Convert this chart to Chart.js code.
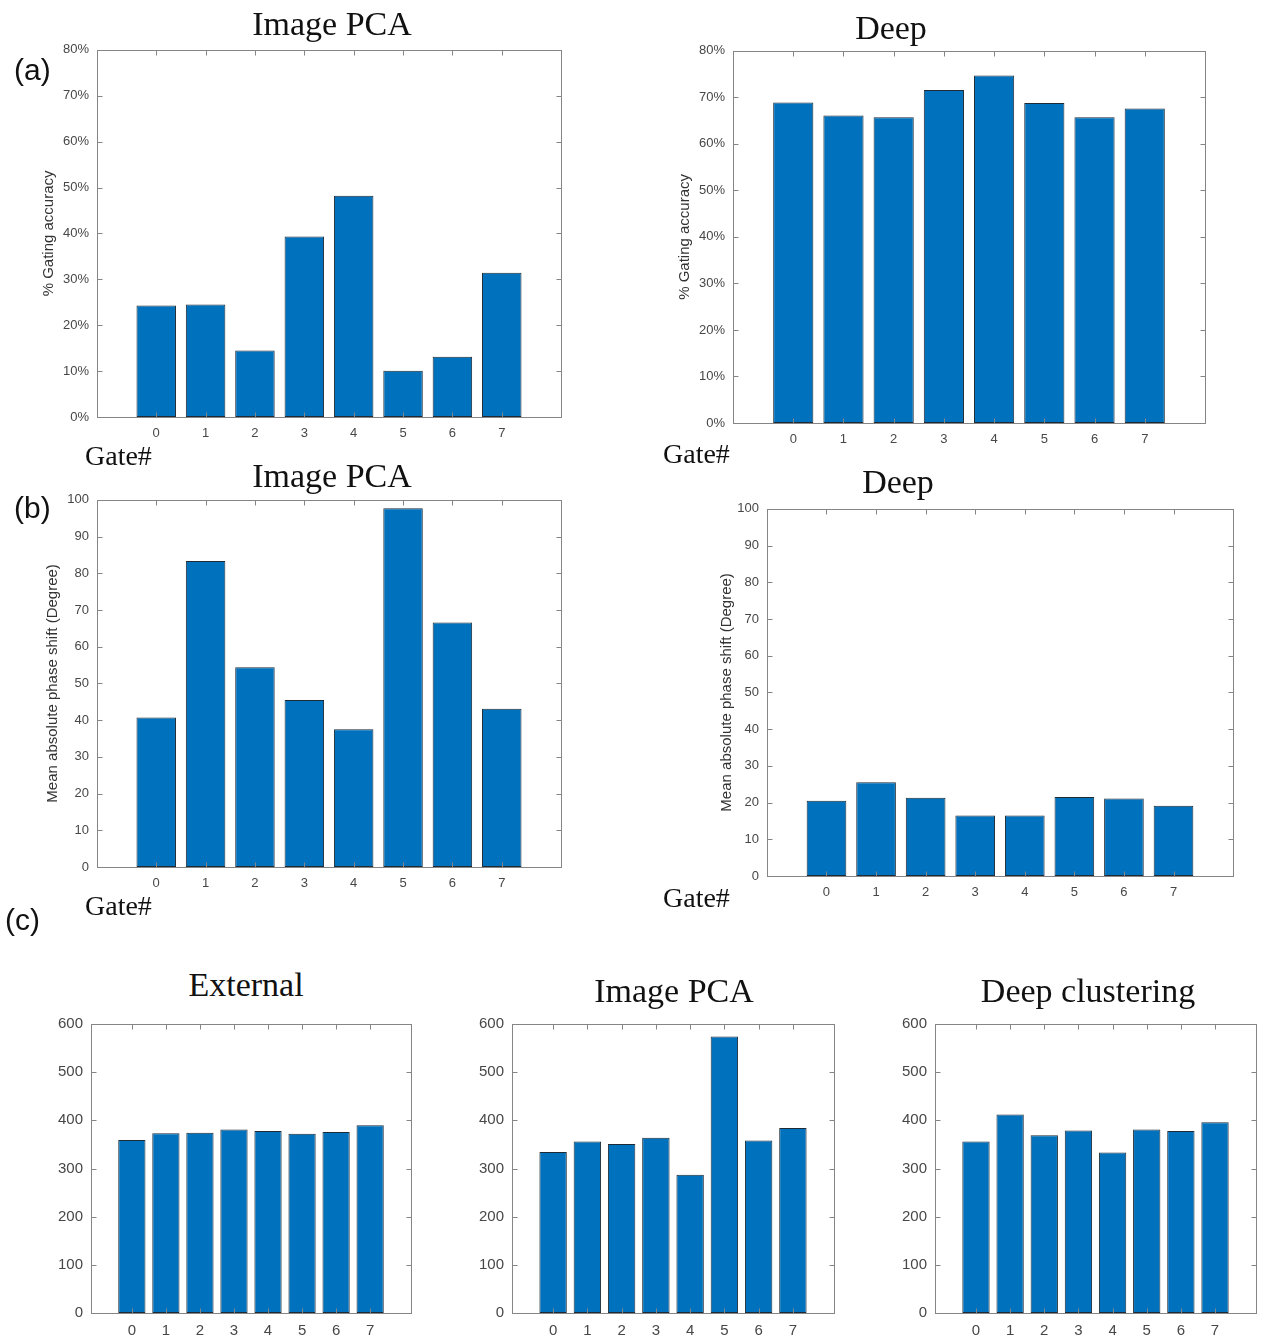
<!DOCTYPE html>
<html>
<head>
<meta charset="utf-8">
<script src="https://cdn.jsdelivr.net/npm/chart.js@4.4.1/dist/chart.umd.min.js"></script>
<style>
  html, body { margin: 0; padding: 0; background: #fff; overflow: hidden; }
  body { width: 1267px; height: 1341px; position: relative; }
  canvas { position: absolute; }
  .txt { position: absolute; white-space: nowrap; line-height: 1; color: #111; }
  .serif { font-family: "Liberation Serif", "Times New Roman", serif; }
  .sans { font-family: "Liberation Sans", Arial, sans-serif; }
</style>
</head>
<body>
<script>
// gate numbers on the x axis
const gates = [0, 1, 2, 3, 4, 5, 6, 7];

// (a) % gating accuracy
const accPca = [24.3, 24.5, 14.5, 39.3, 48.2, 10.1, 13.1, 31.4];
const accDeep = [68.9, 66.1, 65.7, 71.6, 74.7, 68.8, 65.7, 67.6];
const accTicks = [0, 10, 20, 30, 40, 50, 60, 70, 80];

// (b) mean absolute phase shift (degree)
const phasePca = [40.7, 83.3, 54.4, 45.5, 37.5, 97.7, 66.6, 43.1];
const phaseDeep = [20.5, 25.5, 21.3, 16.5, 16.5, 21.5, 21.1, 19.1];
const phaseTicks = [0, 10, 20, 30, 40, 50, 60, 70, 80, 90, 100];

// (c) counts per gate
const countExternal = [359, 373, 374, 381, 378, 372, 376, 390];
const countPca = [334, 356, 351, 364, 287, 574, 358, 384];
const countDeep = [356, 412, 369, 379, 333, 381, 378, 396];
const countTicks = [0, 100, 200, 300, 400, 500, 600];

const BAR = '#0072BD';
const AXIS = '#858585';
const LABEL = '#474747';

// MATLAB style box with inward ticks on all four sides
const boxTicks = {
  id: 'boxTicks',
  afterDatasetsDraw(chart) {
    const { ctx, chartArea: a, scales: { x, y } } = chart;
    ctx.save();
    ctx.strokeStyle = AXIS;
    ctx.lineWidth = 1;
    const L = 5;
    const line = (x1, y1, x2, y2) => { ctx.beginPath(); ctx.moveTo(x1, y1); ctx.lineTo(x2, y2); ctx.stroke(); };
    const left = Math.round(a.left) + 0.5, right = Math.round(a.right) + 0.5;
    const top = Math.round(a.top) + 0.5, bottom = Math.round(a.bottom) + 0.5;
    ctx.strokeRect(left, top, right - left, bottom - top);
    x.ticks.forEach(t => {
      const px = Math.round(x.getPixelForValue(t.value)) + 0.5;
      line(px, bottom, px, bottom - L);
      line(px, top, px, top + L);
    });
    y.ticks.forEach(t => {
      const py = Math.round(y.getPixelForValue(t.value)) + 0.5;
      line(left, py, left + L, py);
      line(right, py, right - L, py);
    });
    ctx.restore();
  }
};

function addText(text, x, baseline, size, cls, align) {
  const d = document.createElement('div');
  d.className = 'txt ' + cls;
  d.textContent = text;
  d.style.fontSize = size + 'px';
  const k = cls === 'serif' ? 0.8375 : 0.846;
  d.style.top = (baseline - k * size) + 'px';
  d.style.left = x + 'px';
  if (align === 'center') d.style.transform = 'translateX(-50%)';
  document.body.appendChild(d);
}

function barConfig(values, yTicks, opt) {
  const tickFont = { family: '"Liberation Sans", Arial, sans-serif', size: opt.font };
  return {
    type: 'bar',
    data: {
      datasets: [{
        data: gates.map((g, i) => ({ x: g, y: values[i] })),
        backgroundColor: BAR,
        borderColor: '#1e2a35',
        borderWidth: 1,
        borderSkipped: false,
        barPercentage: 0.8,
        categoryPercentage: 1.0
      }]
    },
    options: {
      responsive: false,
      devicePixelRatio: 1,
      animation: false,
      layout: { padding: { top: 0, right: 10, left: 0, bottom: 0 } },
      plugins: { legend: { display: false }, tooltip: { enabled: false } },
      scales: {
        x: {
          type: 'linear',
          offset: false,
          min: -1.2, max: 8.2,
          grid: { display: false, drawTicks: false },
          border: { display: false },
          afterBuildTicks: s => { s.ticks = gates.map(v => ({ value: v })); },
          afterFit: s => { s.height = opt.xh; },
          ticks: { autoSkip: false, maxRotation: 0, padding: opt.xpad, color: LABEL, font: tickFont,
                   callback: v => String(v) }
        },
        y: {
          min: yTicks[0], max: yTicks[yTicks.length - 1],
          grid: { display: false, drawTicks: false },
          border: { display: false },
          afterBuildTicks: s => { s.ticks = yTicks.map(v => ({ value: v })); },
          afterFit: s => { s.width = opt.yw; },
          ticks: { padding: 8, color: LABEL, font: tickFont,
                   callback: v => opt.pct ? v + '%' : String(v) },
          title: {
            display: !!opt.ytitle,
            text: opt.ytitle || '',
            color: '#333',
            font: { family: '"Liberation Sans", Arial, sans-serif', size: 15 },
            padding: { top: 1, bottom: 2 }
          }
        }
      }
    },
    plugins: [boxTicks]
  };
}

function makeBar(box, values, yTicks, opt) {
  const W = box.r - box.l + opt.yw + 10;
  const plotH = box.b - box.t;
  const c = document.createElement('canvas');
  document.body.appendChild(c);
  // first pass: find how much room the library keeps above the plot for the top tick label
  c.width = W; c.height = plotH + opt.xh + 20;
  let chart = new Chart(c, barConfig(values, yTicks, opt));
  const topGap = chart.chartArea.top;
  chart.destroy();
  // second pass at the exact size
  const H = Math.round(topGap + plotH + opt.xh);
  c.width = W; c.height = H;
  c.style.width = W + 'px'; c.style.height = H + 'px';
  c.style.left = (box.l - opt.yw) + 'px';
  c.style.top = Math.round(box.t - topGap) + 'px';
  new Chart(c, barConfig(values, yTicks, opt));
}

// (a)
makeBar({ l: 97, t: 50, r: 561, b: 417 }, accPca, accTicks,
  { yw: 58, xh: 30, font: 13, xpad: 9, pct: true, ytitle: '% Gating accuracy' });
makeBar({ l: 733, t: 51, r: 1205, b: 423 }, accDeep, accTicks,
  { yw: 58, xh: 30, font: 13, xpad: 9, pct: true, ytitle: '% Gating accuracy' });
// (b)
makeBar({ l: 97, t: 500, r: 561, b: 867 }, phasePca, phaseTicks,
  { yw: 54, xh: 30, font: 13, xpad: 9, ytitle: 'Mean absolute phase shift (Degree)' });
makeBar({ l: 767, t: 509, r: 1233, b: 876 }, phaseDeep, phaseTicks,
  { yw: 50, xh: 30, font: 13, xpad: 9, ytitle: 'Mean absolute phase shift (Degree)' });
// (c)
makeBar({ l: 91, t: 1024, r: 411, b: 1313 }, countExternal, countTicks,
  { yw: 45, xh: 30, font: 15, xpad: 9 });
makeBar({ l: 512, t: 1024, r: 834, b: 1313 }, countPca, countTicks,
  { yw: 45, xh: 30, font: 15, xpad: 9 });
makeBar({ l: 935, t: 1024, r: 1256, b: 1313 }, countDeep, countTicks,
  { yw: 45, xh: 30, font: 15, xpad: 9 });

// titles and panel labels
addText('Image PCA', 332, 35, 34, 'serif', 'center');
addText('Deep', 891, 39, 34, 'serif', 'center');
addText('Image PCA', 332, 487, 34, 'serif', 'center');
addText('Deep', 898, 493, 34, 'serif', 'center');
addText('External', 246, 996, 34, 'serif', 'center');
addText('Image PCA', 674, 1002, 34, 'serif', 'center');
addText('Deep clustering', 1088, 1002, 34, 'serif', 'center');

addText('Gate#', 85, 465, 28, 'serif');
addText('Gate#', 663, 463, 28, 'serif');
addText('Gate#', 85, 915, 28, 'serif');
addText('Gate#', 663, 907, 28, 'serif');

addText('(a)', 14, 80, 30, 'sans');
addText('(b)', 14, 518, 30, 'sans');
addText('(c)', 5, 930, 30, 'sans');
</script>
</body>
</html>
